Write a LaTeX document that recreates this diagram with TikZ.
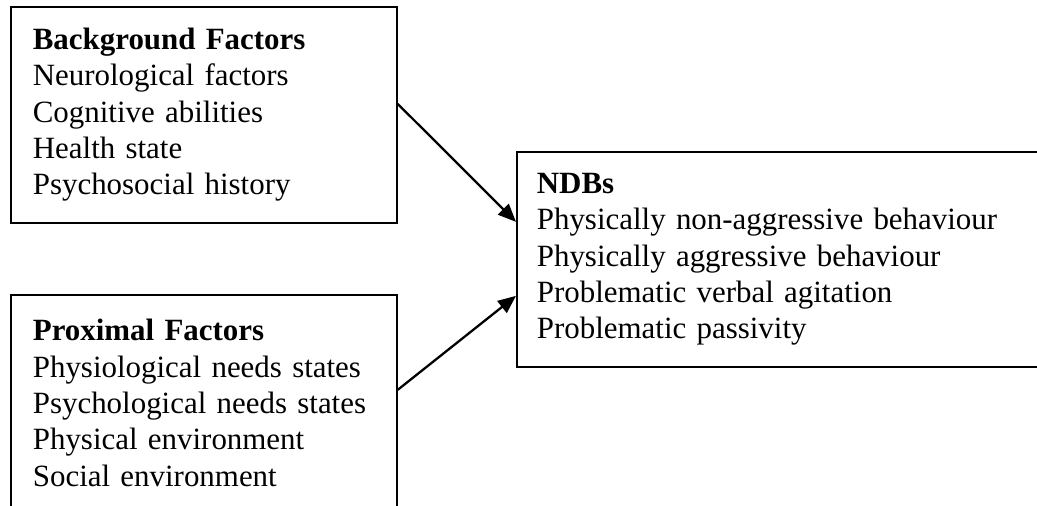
\documentclass[tikz,border=0pt]{standalone}
\usepackage{fontspec}
\setmainfont{Liberation Serif}
\usetikzlibrary{arrows.meta}
\tikzset{
  factorbox/.style={draw, line width=1pt, rectangle, anchor=north west,
    minimum width=7.72cm, minimum height=4.32cm, text width=6.84cm,
    inner sep=0pt, align=left, font=\fontsize{17.6}{20.7}\selectfont},
  link/.style={-{Triangle[length=0.36cm,width=0.3cm]}, line width=1.3pt}
}
\begin{document}
\begin{tikzpicture}[x=0.02cm,y=-0.02cm]
  \useasboundingbox (0,0) rectangle (1037,506);
  \clip (0,0) rectangle (1037,506);
  % the two groups of factors
  \node[factorbox] (bg) at (10,6) {\textbf{Background Factors}\\
    Neurological factors\\Cognitive abilities\\Health state\\Psychosocial history};
  \node[factorbox] (prox) at (10,294) {\textbf{Proximal Factors}\\
    Physiological needs states\\Psychological needs states\\Physical environment\\Social environment};
  % outcome
  \node[factorbox, minimum width=10.6cm, minimum height=4.3cm, text width=9.8cm] (ndb) at (516,151) {\textbf{NDBs}\\
    Physically non-aggressive behaviour\\Physically aggressive behaviour\\Problematic verbal agitation\\Problematic passivity};
  \draw[link] ([yshift=0.22cm]bg.east) -- ([yshift=0.75cm]ndb.west);
  \draw[link] ([yshift=0.26cm]prox.east) -- ([yshift=-0.73cm]ndb.west);
\end{tikzpicture}
\end{document}
